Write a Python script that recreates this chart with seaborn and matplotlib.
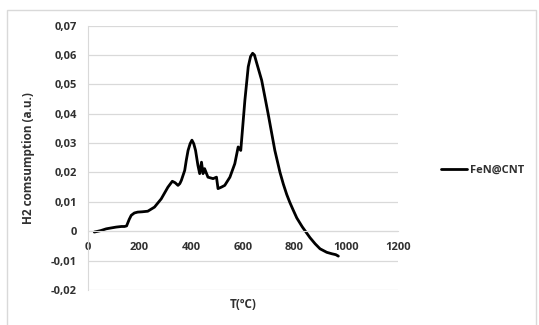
import matplotlib
matplotlib.use("Agg")
import matplotlib.pyplot as plt
import matplotlib.patches as mpatches
from matplotlib.ticker import FuncFormatter
import numpy as np
import pandas as pd
import seaborn as sns

# H2-TPR profile
temperature = [25, 50, 71, 90, 110, 130, 142, 150, 160, 168, 180, 193, 210, 232, 258,
               284, 310, 327, 338, 349, 356, 362, 375, 381, 388, 396, 403, 410, 417,
               426, 433, 440, 446, 452, 465, 485, 498, 504, 517, 530, 550, 569, 582,
               592, 600, 608, 621, 630, 638, 645, 653, 673, 698, 724, 744, 757, 770,
               782, 795, 809, 830, 860, 880, 899, 925, 945, 960, 970]
h2 = [-0.0003, 0.0002, 0.0008, 0.0011, 0.0014, 0.0016, 0.0016, 0.0018, 0.0040, 0.0054,
      0.0062, 0.0065, 0.0066, 0.0068, 0.0082, 0.0110, 0.0150, 0.0170, 0.0165, 0.0156,
      0.0162, 0.0173, 0.0207, 0.0241, 0.0275, 0.0298, 0.0310, 0.0298, 0.0275, 0.0225,
      0.0196, 0.0235, 0.0196, 0.0213, 0.0184, 0.0179, 0.0184, 0.0145, 0.0150, 0.0156,
      0.0184, 0.0230, 0.0287, 0.0275, 0.0360, 0.0446, 0.0560, 0.0595, 0.0606, 0.0600,
      0.0575, 0.0514, 0.0400, 0.0275, 0.0200, 0.0160, 0.0125, 0.0098, 0.0072, 0.0045,
      0.0015, -0.0022, -0.0043, -0.0060, -0.0072, -0.0077, -0.0080, -0.0085]
series_name = "FeN@CNT"
x_ticks = [0, 200, 400, 600, 800, 1000, 1200]
y_ticks = [-0.02, -0.01, 0, 0.01, 0.02, 0.03, 0.04, 0.05, 0.06, 0.07]

df = pd.DataFrame({"T": temperature, "H2": h2, "sample": series_name})

sns.set_style("white")
plt.rcParams["font.family"] = ["Open Sans", "DejaVu Sans"]

fig = plt.figure(figsize=(5.39, 3.25), dpi=100)
ax = fig.add_axes([0.163, 0.108, 0.575, 0.813])

sns.lineplot(data=df, x="T", y="H2", hue="sample", palette=["black"],
             linewidth=2.0, ax=ax, sort=False)

ax.set_xlim(0, 1200)
ax.set_ylim(-0.02, 0.07)
ax.set_xticks(x_ticks)
ax.set_yticks(y_ticks)

def comma_fmt(v, pos):
    if abs(v) < 1e-9:
        return "0"
    return ("%.2f" % v).replace(".", ",")

ax.yaxis.set_major_formatter(FuncFormatter(comma_fmt))
ax.xaxis.set_major_formatter(FuncFormatter(lambda v, p: "%d" % v))

txt = "#303030"
ax.grid(axis="y", color="#d9d9d9", linewidth=0.9)
ax.set_axisbelow(True)
for s in ["top", "right"]:
    ax.spines[s].set_visible(False)
ax.spines["bottom"].set_position(("data", 0))
ax.spines["bottom"].set_color("#d9d9d9")
ax.spines["left"].set_color("#d9d9d9")
ax.tick_params(axis="both", length=0, labelsize=8, colors=txt)
ax.tick_params(axis="x", pad=8)
ax.tick_params(axis="y", pad=8)
for lbl in ax.get_xticklabels() + ax.get_yticklabels():
    lbl.set_fontweight("bold")

ax.set_xlabel("T(ºC)", fontsize=8.5, fontweight="bold", color=txt)
ax.set_ylabel("H2 comsumption (a.u.)", fontsize=8.5, fontweight="bold", color=txt)
ax.xaxis.set_label_coords(0.5, -0.03)
ax.yaxis.set_label_coords(-0.17, 0.5)

leg = ax.legend(loc="center left", bbox_to_anchor=(0.80, 0.477),
                bbox_transform=fig.transFigure, frameon=False,
                fontsize=8, handlelength=2.3, handletextpad=0.3)
for t in leg.get_texts():
    t.set_fontweight("bold")
    t.set_color(txt)

fig.patches.append(mpatches.Rectangle((0.013, -0.01), 0.981, 0.98,
                                      transform=fig.transFigure, fill=False,
                                      edgecolor="#d9d9d9", linewidth=1))

fig.savefig("out.png", dpi=100)
